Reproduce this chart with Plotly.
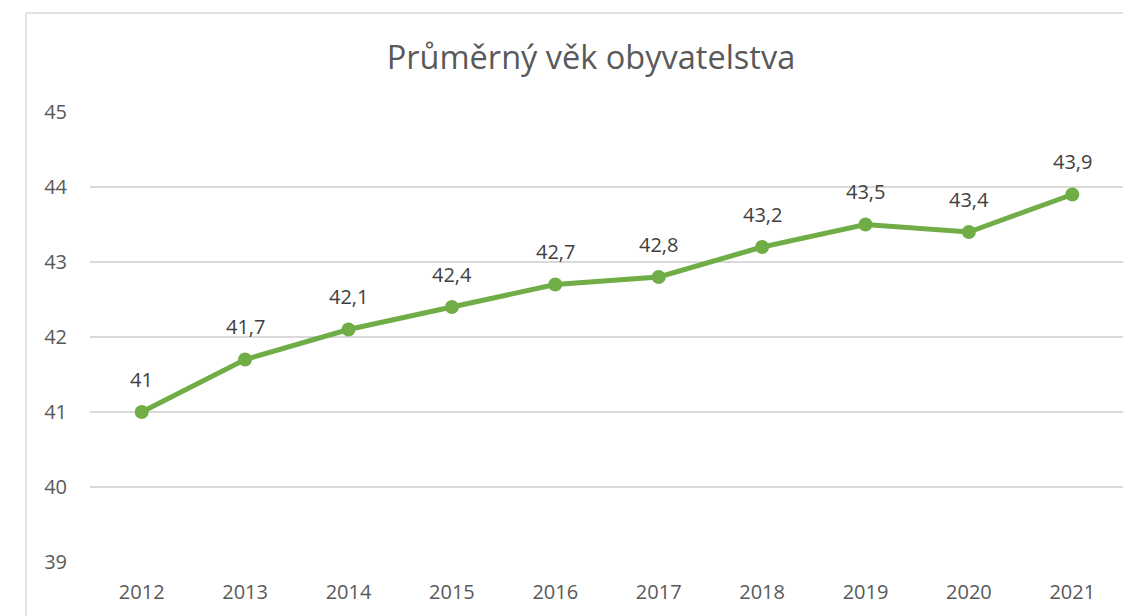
import plotly.graph_objects as go

years = ["2012", "2013", "2014", "2015", "2016", "2017", "2018", "2019", "2020", "2021"]
avg_age = [41.0, 41.7, 42.1, 42.4, 42.7, 42.8, 43.2, 43.5, 43.4, 43.9]
labels = ["41", "41,7", "42,1", "42,4", "42,7", "42,8", "43,2", "43,5", "43,4", "43,9"]
y_ticks = [39, 40, 41, 42, 43, 44, 45]

W, H = 1123, 616
ML, MR, MT, MB = 90, 0, 112, 54
pw = W - ML - MR
ph = H - MT - MB
band_px = 103.4

font_fam = "Open Sans, sans-serif"
grey_txt = "#595959"
grid = "#D9D9D9"

xs = list(range(len(years)))

fig = go.Figure()
fig.add_trace(go.Scatter(
    x=xs, y=avg_age,
    mode="lines+markers",
    line=dict(color="#70AD47", width=5),
    marker=dict(color="#70AD47", size=14),
    cliponaxis=False, hoverinfo="skip",
))
for xi, yi, lab in zip(xs, avg_age, labels):
    fig.add_annotation(x=xi, y=yi, text=lab, showarrow=False, yshift=33,
                       font=dict(family=font_fam, size=20, color="#404040"))

fig.update_xaxes(
    range=[-0.5, -0.5 + pw / band_px],
    tickmode="array", tickvals=xs, ticktext=years,
    showgrid=False, zeroline=False, showline=False,
    tickfont=dict(family=font_fam, size=20, color=grey_txt),
    ticklabelstandoff=16, ticks="",
)
fig.update_yaxes(
    range=[39, 45], tickmode="array", tickvals=y_ticks,
    showgrid=True, gridcolor=grid, gridwidth=1.5, zeroline=False, showline=False,
    tickfont=dict(family=font_fam, size=20, color=grey_txt),
    ticklabelstandoff=22, ticks="",
)

# chart border (left and top edges visible)
bx = (26 - ML) / pw
by = (H - MB - 13) / ph
fig.add_shape(type="line", xref="paper", yref="paper", x0=bx, x1=bx, y0=-0.2, y1=by,
              line=dict(color=grid, width=1.5))
fig.add_shape(type="line", xref="paper", yref="paper", x0=bx, x1=1.05, y0=by, y1=by,
              line=dict(color=grid, width=1.5))

fig.update_layout(
    width=W, height=H,
    margin=dict(l=ML, r=MR, t=MT, b=MB),
    paper_bgcolor="white", plot_bgcolor="white",
    showlegend=False,
    title=dict(text="Průměrný věk obyvatelstva", x=(591 - ML) / pw, xref="paper", xanchor="center",
               y=1 - 58 / H, yref="container", yanchor="middle",
               font=dict(family=font_fam, size=32.5, color=grey_txt)),
)

fig.write_html(
    "out.html",
    config={"displayModeBar": False},
    post_script="document.body.style.margin='0';document.body.style.overflow='hidden';"
                "document.documentElement.style.overflow='hidden';",
)
